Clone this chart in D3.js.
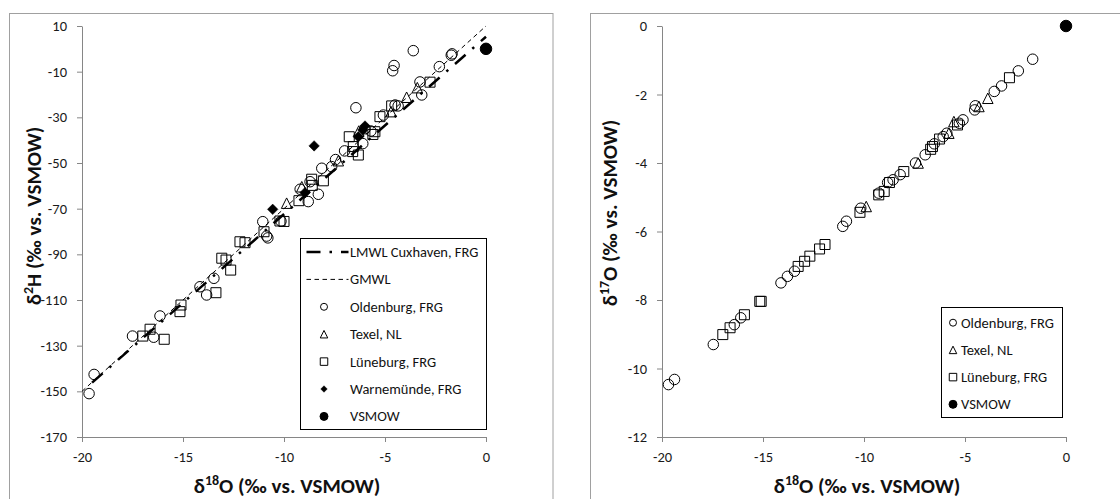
<!DOCTYPE html>
<html>
<head>
<meta charset="utf-8">
<script src="https://cdn.jsdelivr.net/npm/d3@7"></script>
<style>
  html, body { margin: 0; padding: 0; background: #fff; overflow: hidden; }
  svg { display: block; }
  text { font-family: Carlito, Calibri, Lato, sans-serif; }
</style>
</head>
<body>
<svg id="fig" width="1120" height="499"></svg>
<script>
// ---- axis ticks ----
const d18OTicks = [-20, -15, -10, -5, 0];
const d2HTicks = [10, -10, -30, -50, -70, -90, -110, -130, -150, -170];
const d17OTicks = [0, -2, -4, -6, -8, -10, -12];

// ---- δ18O / δ2H (‰ vs. VSMOW) ----
const oldenburgH = [
  [-19.65, -151], [-19.4, -142.6], [-17.5, -125.8], [-16.45, -126.3], [-16.14, -117],
  [-14.16, -104.2], [-13.83, -107.8], [-13.47, -100.5], [-11.05, -75.7], [-10.86, -82],
  [-10.8, -82.8], [-10.15, -75.5], [-9.2, -61.5], [-8.8, -66.9], [-8.71, -58.2],
  [-8.3, -63.7], [-8.13, -52.3], [-7.64, -51.6], [-7.45, -48.5], [-7.0, -44.7],
  [-6.44, -25.8], [-6.1, -41.5], [-5.99, -35], [-5.7, -36], [-5.08, -29],
  [-4.5, -24.6], [-4.35, -25], [-4.62, -9.6], [-4.55, -7.3], [-3.6, -0.8],
  [-3.27, -14.5], [-3.18, -20.2], [-2.31, -7.8], [-1.72, -2.8], [-1.68, -2.2]
];
const texelH = [
  [-9.87, -67.6], [-9.12, -60.4], [-7.31, -49], [-6.3, -36], [-4.7, -27.5],
  [-3.93, -21.2], [-3.4, -17]
];
const lueneburgH = [
  [-16.99, -125.8], [-16.63, -122.8], [-15.93, -127.2], [-15.15, -115.1], [-15.1, -112.2],
  [-13.37, -106.8], [-13.08, -91.7], [-12.87, -92.5], [-12.64, -96.9], [-12.18, -84.5],
  [-11.93, -84.9], [-10.99, -80.1], [-10.2, -75.4], [-10.0, -75.6], [-9.26, -66.5],
  [-8.63, -57.1], [-8.6, -59.8], [-8.05, -57.8], [-6.77, -38.5], [-6.57, -42.8],
  [-6.6, -45], [-6.32, -46.5], [-5.5, -36.3], [-5.6, -37.5], [-5.25, -29.7],
  [-4.67, -25], [-2.77, -14.6]
];
const warnemuendeH = [
  [-10.56, -70.3], [-8.96, -63], [-8.51, -42.5], [-6.32, -38.5], [-6.1, -35.5], [-5.99, -33.8]
];
const vsmowH = [[0, 0]];

// meteoric water lines (end points)
const lmwlCuxhaven = [[-19.5, -146.2], [0, 5.3]];
const gmwl = [[-20, -150], [0, 10]];

// ---- δ18O / δ17O (‰ vs. VSMOW) ----
const oldenburgO = [
  [-19.68, -10.47], [-19.38, -10.32], [-17.46, -9.3], [-16.42, -8.72], [-16.1, -8.52],
  [-14.11, -7.5], [-13.79, -7.31], [-13.44, -7.16], [-11.05, -5.85], [-10.87, -5.7],
  [-10.16, -5.32], [-9.27, -4.88], [-8.83, -4.57], [-8.56, -4.49], [-8.21, -4.34],
  [-7.45, -4.0], [-6.97, -3.76], [-6.52, -3.44], [-6.08, -3.23], [-5.9, -3.13],
  [-5.28, -2.84], [-5.1, -2.74], [-4.52, -2.45], [-4.49, -2.33], [-3.55, -1.91],
  [-3.19, -1.75], [-2.36, -1.31], [-1.65, -0.97]
];
const texelO = [
  [-9.89, -5.27], [-7.32, -4.0], [-5.8, -3.13], [-5.55, -2.79], [-4.31, -2.35], [-3.87, -2.11]
];
const lueneburgO = [
  [-16.99, -9.01], [-16.63, -8.81], [-15.92, -8.43], [-15.16, -8.04], [-15.09, -8.04],
  [-13.26, -7.02], [-12.94, -6.87], [-12.68, -6.72], [-12.2, -6.51], [-11.93, -6.38],
  [-10.2, -5.44], [-9.27, -4.93], [-9.0, -4.83], [-8.74, -4.57], [-8.03, -4.25],
  [-6.7, -3.6], [-6.61, -3.52], [-6.26, -3.3], [-5.37, -2.89], [-2.8, -1.51]
];
const vsmowO = [[0, 0]];

// ---- drawing helpers ----
const svg = d3.select("#fig");
const AXIS = "#868686";
const FRAME = "#a0a0a0";
const INK = "#000";
const LMWL_DASH = "14,9,2.5,9";
const GMWL_DASH = "4.5,3.5";

function markerPath(type, s) {
  const h = s / 2;
  if (type === "square") return `M${-h},${-h}h${s}v${s}h${-s}Z`;
  if (type === "triangle") return `M0,${-h}L${h},${h}L${-h},${h}Z`;
  if (type === "diamond") return `M0,${-h}L${h},0L0,${h}L${-h},0Z`;
  return null;
}

function drawMarker(g, type, x, y, size) {
  if (type === "circle" || type === "dot") {
    g.append("circle").attr("cx", x).attr("cy", y).attr("r", size / 2)
      .attr("fill", type === "dot" ? INK : "none")
      .attr("stroke", INK).attr("stroke-width", 1);
  } else {
    g.append("path").attr("transform", `translate(${x},${y})`)
      .attr("d", markerPath(type, size))
      .attr("fill", type === "diamond" ? INK : "none")
      .attr("stroke", INK).attr("stroke-width", type === "diamond" ? 0.5 : 1);
  }
}

const markerSize = { circle: 10.5, triangle: 10.5, square: 10, diamond: 10.5, dot: 11.5 };
const legendSize = { circle: 7, triangle: 7.5, square: 7.5, diamond: 6.5, dot: 8 };

function axisTitle(g, x, y, base, sup, rest, rotate) {
  const t = g.append("text")
    .attr("transform", `translate(${x},${y})` + (rotate ? " rotate(-90)" : ""))
    .attr("text-anchor", "middle")
    .attr("font-size", 21).attr("font-weight", "bold").attr("fill", "#111");
  t.append("tspan").text(base);
  t.append("tspan").attr("font-size", 14).attr("dy", -8).text(sup);
  t.append("tspan").attr("dy", 8).text(rest);
}

function panel(cfg) {
  const g = svg.append("g");
  // chart area frame
  g.append("rect").attr("x", cfg.frame[0] + 0.5).attr("y", cfg.frame[1] + 0.5)
    .attr("width", cfg.frame[2]).attr("height", cfg.frame[3])
    .attr("fill", "#fff").attr("stroke", FRAME).attr("stroke-width", 1);

  const x = d3.scaleLinear().domain([-20, 0]).range([cfg.left, cfg.right]);
  const y = d3.scaleLinear().domain(cfg.yDomain).range([cfg.bottom, cfg.top]);
  const plain = d => String(d);

  // axes
  const ax = g.append("g").attr("transform", `translate(0,${cfg.bottom})`)
    .call(d3.axisBottom(x).tickValues(d18OTicks).tickFormat(plain)
      .tickSize(5).tickSizeOuter(0).tickPadding(10));
  const ay = g.append("g").attr("transform", `translate(${cfg.left},0)`)
    .call(d3.axisLeft(y).tickValues(cfg.yTicks).tickFormat(plain)
      .tickSize(5).tickSizeOuter(0).tickPadding(10));
  [ax, ay].forEach(a => {
    a.select(".domain").attr("stroke", AXIS);
    a.selectAll(".tick line").attr("stroke", AXIS);
    a.selectAll(".tick text").attr("fill", "#1a1a1a").attr("font-size", 14.5)
      .attr("font-family", "Carlito, Calibri, Lato, sans-serif");
  });

  // water lines
  const line = d3.line().x(d => x(d[0])).y(d => y(d[1]));
  (cfg.lines || []).forEach(l => {
    g.append("path").attr("d", line(l.data)).attr("fill", "none")
      .attr("stroke", INK).attr("stroke-width", l.width).attr("stroke-dasharray", l.dash);
  });

  // samples
  const pts = g.append("g");
  cfg.series.forEach(s => {
    s.data.forEach(d => drawMarker(pts, s.type, x(d[0]), y(d[1]), markerSize[s.type]));
  });

  // titles
  axisTitle(g, cfg.xTitle[0], cfg.xTitle[1], "δ", "18", "O (‰ vs. VSMOW)", false);
  axisTitle(g, cfg.yTitle[0], cfg.yTitle[1], "δ", cfg.yTitleSup, cfg.yTitleRest, true);

  // legend
  const L = cfg.legend;
  const lg = g.append("g");
  lg.append("rect").attr("x", L.box[0] + 0.5).attr("y", L.box[1] + 0.5)
    .attr("width", L.box[2]).attr("height", L.box[3])
    .attr("fill", "#fff").attr("stroke", INK).attr("stroke-width", 1);
  L.items.forEach((it, i) => {
    const cy = L.y0 + i * L.step;
    if (it.line) {
      lg.append("line").attr("x1", L.lineX[0]).attr("x2", L.lineX[1])
        .attr("y1", cy).attr("y2", cy).attr("stroke", INK)
        .attr("stroke-width", it.line.width).attr("stroke-dasharray", it.line.dash);
    } else {
      drawMarker(lg, it.type, L.symX, cy, legendSize[it.type]);
    }
    lg.append("text").attr("x", L.textX).attr("y", cy).attr("dy", "0.35em")
      .attr("font-size", 14.5).attr("fill", "#111").text(it.label);
  });
}

const lmwlStyle = { width: 2.5, dash: LMWL_DASH };
const gmwlStyle = { width: 1, dash: GMWL_DASH };

panel({
  frame: [9, 13, 543.5, 600],
  left: 82, right: 486, top: 26, bottom: 437,
  yDomain: [-170, 10], yTicks: d2HTicks,
  lines: [
    { data: gmwl, ...gmwlStyle },
    { data: lmwlCuxhaven, ...lmwlStyle }
  ],
  series: [
    { type: "circle", data: oldenburgH },
    { type: "triangle", data: texelH },
    { type: "square", data: lueneburgH },
    { type: "diamond", data: warnemuendeH },
    { type: "dot", data: vsmowH }
  ],
  xTitle: [287, 493], yTitle: [41, 216],
  yTitleSup: "2", yTitleRest: "H (‰ vs. VSMOW)",
  legend: {
    box: [300, 238, 186, 191],
    y0: 252, step: 27.4, symX: 324, textX: 350, lineX: [306.5, 348.5],
    items: [
      { label: "LMWL Cuxhaven, FRG", line: lmwlStyle },
      { label: "GMWL", line: gmwlStyle },
      { label: "Oldenburg, FRG", type: "circle" },
      { label: "Texel, NL", type: "triangle" },
      { label: "Lüneburg, FRG", type: "square" },
      { label: "Warnemünde, FRG", type: "diamond" },
      { label: "VSMOW", type: "dot" }
    ]
  }
});

panel({
  frame: [590, 13, 600, 600],
  left: 662, right: 1066, top: 26, bottom: 437,
  yDomain: [-12, 0], yTicks: d17OTicks,
  lines: [],
  series: [
    { type: "circle", data: oldenburgO },
    { type: "triangle", data: texelO },
    { type: "square", data: lueneburgO },
    { type: "dot", data: vsmowO }
  ],
  xTitle: [867, 493], yTitle: [617, 213],
  yTitleSup: "17", yTitleRest: "O (‰ vs. VSMOW)",
  legend: {
    box: [941, 307, 121, 110],
    y0: 322.7, step: 27.2, symX: 953, textX: 961,
    items: [
      { label: "Oldenburg, FRG", type: "circle" },
      { label: "Texel, NL", type: "triangle" },
      { label: "Lüneburg, FRG", type: "square" },
      { label: "VSMOW", type: "dot" }
    ]
  }
});
</script>
</body>
</html>
